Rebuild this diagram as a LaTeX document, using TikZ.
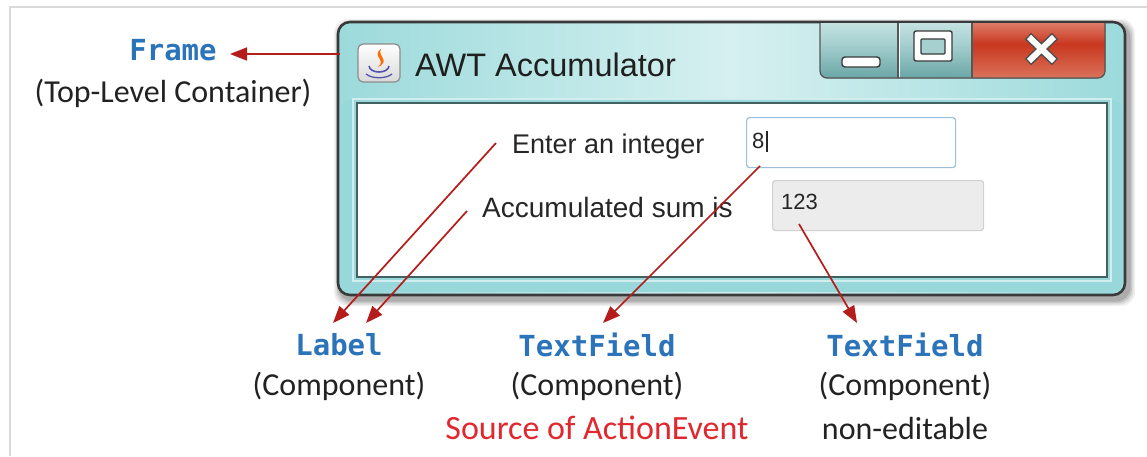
\documentclass[tikz,border=0pt]{standalone}
\usepackage{fontspec}
\setmainfont{Carlito}
\newfontfamily\winfont{Liberation Sans}
\newfontfamily\monofont{DejaVu Sans Mono}
\usetikzlibrary{arrows.meta}
\definecolor{arrred}{HTML}{B51C1C}
\definecolor{clsblue}{HTML}{2C74BA}
\definecolor{srcred}{HTML}{E0282E}
\definecolor{txt}{HTML}{222222}
\definecolor{frA}{HTML}{9CDADB}
\definecolor{frB}{HTML}{D6F0F0}
\definecolor{frC}{HTML}{98D8DA}
\definecolor{edge}{HTML}{3A3A3A}
\definecolor{btA}{HTML}{D6EDED}
\definecolor{btB}{HTML}{A6CFCF}
\definecolor{btC}{HTML}{6AA6A6}
\definecolor{clA}{HTML}{EBA595}
\definecolor{clB}{HTML}{C9371F}
\definecolor{clC}{HTML}{D9735A}
\definecolor{tfblue}{HTML}{9CC0DC}
\definecolor{tfgray}{HTML}{ECECEC}
\begin{document}
\begin{tikzpicture}[x=1pt,y=-1pt,
  arr/.style={draw=arrred,line width=1.7pt,-{Triangle[length=17pt,width=13pt]}},
  cls/.style={font=\monofont\bfseries\fontsize{29}{32}\selectfont,text=clsblue,inner sep=0pt},
  desc/.style={font=\fontsize{32}{36}\selectfont,text=txt,inner sep=0pt},
  win/.style={font=\winfont\fontsize{27}{30}\selectfont,text=black!85,inner sep=0pt},
  fieldtxt/.style={font=\winfont\fontsize{22}{24}\selectfont,text=black!85,inner sep=0pt,anchor=base west}
]
\useasboundingbox (0,0) rectangle (1147,456);
\fill[white] (0,0) rectangle (1147,456);
\draw[gray!30,line width=2pt] (10,456) -- (10,7) -- (1147,7);

% window shadow
\foreach \d/\o in {7/0.06,5.5/0.08,4/0.1,2.5/0.12}{
  \fill[black,opacity=\o,rounded corners=14] (338+3-\d,22+4-\d) rectangle (1125+3+\d,295+4+\d);
}
% window frame
\draw[edge,line width=2.6pt,rounded corners=12,left color=frA,right color=frA,middle color=frB] (338,22) rectangle (1125,295);
\fill[frC,rounded corners=9] (341,100) rectangle (1122,292);
\draw[white!55!frC,line width=1.2pt] (353,99) rectangle (1111,281);
\draw[fill=white,draw=black!55!frC,line width=1.4pt] (357,103) rectangle (1107,277);

% caption buttons
\begin{scope}
\clip (800,23.5) rectangle (1120,90);
\fill[rounded corners=7,top color=btA,bottom color=btC,middle color=btB] (820,10) rectangle (1105,78);
\begin{scope}
\clip (972,0) rectangle (1110,90);
\fill[rounded corners=7,top color=clA,bottom color=clC,middle color=clB] (820,10) rectangle (1105,78);
\end{scope}
\draw[edge!85,line width=1.3pt,rounded corners=7] (820,10) rectangle (1105,78);
\draw[edge!85,line width=1.1pt] (898,10) -- (898,78) (972,10) -- (972,78);
\draw[white!70!btA,line width=0.8pt] (899.5,24) -- (899.5,77);
\end{scope}
\draw[edge,line width=1.4pt,fill=white,rounded corners=3] (842,57) rectangle (880,67);
\draw[edge,line width=1.4pt,fill=white,rounded corners=2] (914,31) rectangle (952,61);
\draw[edge,line width=1.2pt,fill=btB,rounded corners=1] (921,39) rectangle (945,54);
\draw[edge!90,line width=9pt] (1028,36) -- (1055,62) (1055,36) -- (1028,62);
\draw[white,line width=6pt] (1029,37) -- (1054,61) (1054,37) -- (1029,61);

% java icon
\draw[black!45,line width=1.2pt,rounded corners=5,top color=white,bottom color=gray!30] (358,44) rectangle (400,82);
\fill[orange!85!red] (381,49) .. controls (371,56) and (387,60) .. (378,67) .. controls (391,61) and (377,56) .. (381,49);
\draw[blue!35!gray,line width=1.6pt] (369,66) .. controls (370,74) and (388,74) .. (389,66);
\draw[blue!35!gray,line width=1.3pt] (366,74) .. controls (372,79) and (386,79) .. (392,74);

% title
\node[font=\winfont\fontsize{32.5}{36}\selectfont,text=black!88,anchor=base west,inner sep=0pt] (title) at (415,76) {AWT Accumulator};

% client contents
\node[win,anchor=base west] (enter) at (512,153) {Enter an integer};
\node[win,font=\winfont\fontsize{28}{30}\selectfont,anchor=base west] (accum) at (482,217) {Accumulated sum is};
\node[draw=tfblue,line width=1.2pt,fill=white,rounded corners=3,minimum width=209pt,minimum height=50pt,inner sep=0pt,anchor=north west] (tf1) at (746,117) {};
\node[draw=black!18,line width=1.2pt,fill=tfgray,rounded corners=3,minimum width=211pt,minimum height=50pt,inner sep=0pt,anchor=north west] (tf2) at (772,180) {};
\node[fieldtxt] (eight) at (752,148) {8};
\draw[black!85,line width=1.2pt] (767,131) -- (767,152);
\node[fieldtxt] (sum) at (781,209) {123};

% outside labels
\node[cls] (frame) at (173,50) {Frame};
\node[desc] (frameD) at (173,93) {(Top-Level Container)};
\node[cls] (label) at (339,345) {Label};
\node[desc] (labelD) at (339,386) {(Component)};
\node[cls] (tfA) at (597,345) {TextField};
\node[desc] (tfAD) at (597,386) {(Component)};
\node[desc,font=\fontsize{34}{38}\selectfont,text=srcred] (tfAS) at (597,428) {Source of ActionEvent};
\node[cls] (tfB) at (905,345) {TextField};
\node[desc] (tfBD) at (905,386) {(Component)};
\node[desc] (tfBS) at (905,428) {non-editable};

% connectors
\coordinate (s0) at (340,54);   \coordinate (t0) at (230,54);
\coordinate (s1) at (496,143);  \coordinate (t1) at (333,323);
\coordinate (s2) at (467,211);  \coordinate (t2) at (366,323);
\coordinate (s3) at (760,166);  \coordinate (t3) at (603,323);
\coordinate (s4) at (799,224);  \coordinate (t4) at (857,323);
\draw[arr] (s0) -- (t0);
\draw[arr] (s1) -- (t1);
\draw[arr] (s2) -- (t2);
\draw[arr] (s3) -- (t3);
\draw[arr] (s4) -- (t4);
\end{tikzpicture}
\end{document}
